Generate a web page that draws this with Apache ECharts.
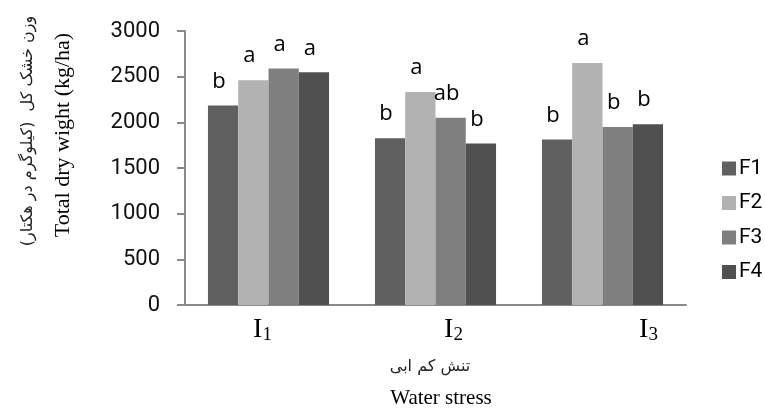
<!DOCTYPE html>
<html>
<head>
<meta charset="utf-8">
<script src="https://cdn.jsdelivr.net/npm/echarts@6/dist/echarts.min.js"></script>
<style>
html,body{margin:0;padding:0;background:#fff;}
#chart{width:765px;height:410px;}
</style>
</head>
<body>
<div id="chart"></div>
<script>
// ---- data ----
const categories = ['I1', 'I2', 'I3'];
const categorySubscripts = ['1', '2', '3'];
const seriesNames = ['F1', 'F2', 'F3', 'F4'];
const valuesF1 = [2184, 1827, 1812];
const valuesF2 = [2461, 2333, 2650];
const valuesF3 = [2589, 2049, 1950];
const valuesF4 = [2548, 1769, 1980];
const lettersF1 = ['b', 'b', 'b'];
const lettersF2 = ['a', 'a', 'a'];
const lettersF3 = ['a', 'ab', 'b'];
const lettersF4 = ['a', 'b', 'b'];
const yMin = 0, yMax = 3000, yStep = 500;
const yTitleEn = 'Total dry wight (kg/ha)';
const yTitleFa = '\u200Fوزن خشک کل  (کیلوگرم در هکتار)\u200F';
const xTitleEn = 'Water stress';
const xTitleFa = 'تنش کم ابی';

// ---- styles ----
const serif = '"Liberation Serif", "Times New Roman", serif';
const colors = ['#606060', '#b2b2b2', '#7f7f7f', '#505050'];
const axisColor = '#898989';
const allValues = [valuesF1, valuesF2, valuesF3, valuesF4];
const allLetters = [lettersF1, lettersF2, lettersF3, lettersF4];
const labelShift = [-6, 18, 46]; // horizontal shift of category labels

const rich = {};
categories.forEach((c, i) => {
  const s = labelShift[i];
  rich['m' + i] = {
    fontFamily: serif, fontSize: 28, color: '#000',
    lineHeight: 28, verticalAlign: 'middle',
    padding: [0, 0, 0, s > 0 ? 2 * s : 0]
  };
  rich['s' + i] = {
    fontFamily: serif, fontSize: 19, color: '#000',
    lineHeight: 18, verticalAlign: 'middle',
    padding: [10, s < 0 ? -2 * s : 0, 0, 0]
  };
});

const series = seriesNames.map((name, si) => ({
  name: name,
  type: 'bar',
  barGap: '0%',
  barCategoryGap: '27.5%',
  itemStyle: { color: colors[si] },
  data: allValues[si].map((v, ci) => ({
    value: v,
    label: {
      show: true,
      position: 'top',
      distance: 13,
      offset: [-4, 0],
      formatter: allLetters[si][ci],
      fontFamily: 'Open Sans',
      fontSize: 22,
      color: '#000'
    }
  }))
}));

const chart = echarts.init(document.getElementById('chart'), null, { renderer: 'canvas' });
chart.setOption({
  animation: false,
  backgroundColor: '#fff',
  grid: { left: 185, right: 79, top: 31, bottom: 105, containLabel: false },
  legend: {
    orient: 'vertical',
    left: 717,
    top: 153,
    itemWidth: 14,
    itemHeight: 14,
    itemGap: 13.5,
    icon: 'rect',
    textStyle: { fontFamily: 'Roboto', fontSize: 21, color: '#000', lineHeight: 20, padding: [0, 0, 0, -2] },
    data: seriesNames
  },
  xAxis: {
    type: 'category',
    data: categories,
    axisLine: { show: true, lineStyle: { color: axisColor, width: 2 } },
    axisTick: { show: false },
    axisLabel: {
      margin: 11,
      formatter: function (v) {
        const i = categories.indexOf(v);
        return '{m' + i + '|I}{s' + i + '|' + categorySubscripts[i] + '}';
      },
      rich: rich
    }
  },
  yAxis: {
    type: 'value',
    min: yMin, max: yMax, interval: yStep,
    axisLine: { show: true, lineStyle: { color: axisColor, width: 2 } },
    axisTick: { show: true, inside: false, length: 8, lineStyle: { color: axisColor, width: 2 } },
    splitLine: { show: false },
    axisLabel: { margin: 25, fontFamily: 'Roboto', fontSize: 22, color: '#111', formatter: v => String(v) }
  },
  graphic: [
    { type: 'text', x: 63, y: 135, rotation: Math.PI / 2,
      style: { text: yTitleEn, font: '22px ' + serif, fill: '#000', align: 'center', verticalAlign: 'middle' } },
    { type: 'text', x: 28, y: 131, rotation: Math.PI / 2,
      style: { text: yTitleFa, font: '16px "DejaVu Sans"', fill: '#222', align: 'center', verticalAlign: 'middle' } },
    { type: 'text', x: 430, y: 367,
      style: { text: xTitleFa, font: '16px "DejaVu Sans"', fill: '#222', align: 'center', verticalAlign: 'middle' } },
    { type: 'text', x: 441, y: 398,
      style: { text: xTitleEn, font: '21px ' + serif, fill: '#000', align: 'center', verticalAlign: 'middle' } }
  ],
  series: series
});
</script>
</body>
</html>
